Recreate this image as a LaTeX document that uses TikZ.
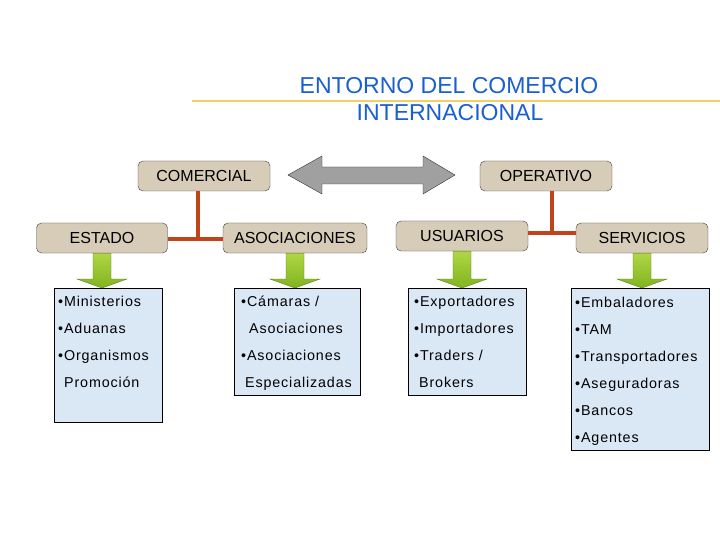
\documentclass[tikz,border=0pt]{standalone}
\usepackage{fontspec}
\setmainfont{Liberation Sans}
\newfontfamily\listfont[LetterSpace=6]{Liberation Sans}
\usetikzlibrary{positioning, calc}

\definecolor{titleblue}{RGB}{25,95,210}
\definecolor{rulegold}{RGB}{240,210,100}
\definecolor{beige}{RGB}{214,204,184}
\definecolor{linkred}{RGB}{192,68,26}
\definecolor{listblue}{RGB}{218,231,245}
\definecolor{arrowgray}{RGB}{160,160,160}
\definecolor{greenlight}{RGB}{176,214,70}
\definecolor{greendark}{RGB}{128,180,30}

\begin{document}
\begin{tikzpicture}[x=1pt, y=-1pt,
    title/.style={text=titleblue, font=\fontsize{23}{25}\selectfont},
    box/.style={draw=black!75, rounded corners=5pt, fill=beige, minimum width=132pt,
        minimum height=30pt, inner sep=0pt, font=\fontsize{16}{18}\selectfont},
    listbox/.style={draw=black, fill=listblue, anchor=north west, inner sep=0pt},
    item/.style={anchor=base west, inner sep=0pt, font=\listfont\fontsize{14.3}{16}\selectfont},
    link/.style={draw=linkred, line width=3.5pt},
    greenarrow/.style={draw=greendark!70!black, top color=greenlight, bottom color=greendark}]

    \useasboundingbox[fill=white] (0,0) rectangle (720,540);

    % title
    \draw[rulegold, line width=2.5pt] (192,101) -- (720,101);
    \node[title] (title1) at (449,86) {ENTORNO DEL COMERCIO};
    \node[title] (title2) at (450,113) {INTERNACIONAL};

    % top level
    \node[box] (comercial) at (204,176) {COMERCIAL};
    \node[box] (operativo) at (546,176) {OPERATIVO};
    \draw[draw=black!80, fill=arrowgray] (288,175) -- (322,156) -- (322,167) -- (423,167)
        -- (423,156) -- (455,175) -- (423,194) -- (423,184) -- (322,184) -- (322,194) -- cycle;

    % second level
    \node[box, minimum width=131pt] (estado) at (102,238) {ESTADO};
    \node[box, minimum width=144pt] (asociaciones) at (295,238) {ASOCIACIONES};
    \node[box] (usuarios) at (462,236) {USUARIOS};
    \node[box] (servicios) at (642,238) {SERVICIOS};

    \coordinate (comjoin) at (198,239);
    \coordinate (opjoin) at (552,233);
    \draw[link] (estado.east |- comjoin) -- (asociaciones.west |- comjoin);
    \draw[link] (comercial.south -| comjoin) -- (comjoin);
    \draw[link] (usuarios.east |- opjoin) -- (servicios.west |- opjoin);
    \draw[link] (operativo.south -| opjoin) -- (opjoin);

    % lists
    \node[listbox, minimum width=108pt, minimum height=134pt] (estadolist) at (54,288) {};
    \node[listbox, minimum width=126pt, minimum height=107pt] (asoclist) at (234,288) {};
    \node[listbox, minimum width=118pt, minimum height=107pt] (usuarioslist) at (408,288) {};
    \node[listbox, minimum width=138pt, minimum height=162pt] (servicioslist) at (571,288) {};

    \coordinate (headbase) at (0,279);
    \foreach \b/\l in {estado/estadolist, asociaciones/asoclist, usuarios/usuarioslist, servicios/servicioslist}
        \draw[greenarrow] ([xshift=-9pt]\b.south) -- ([xshift=-9pt]\b.south |- headbase)
            -- ([xshift=-25pt]\b.south |- headbase) -- (\b.south |- \l.north)
            -- ([xshift=25pt]\b.south |- headbase) -- ([xshift=9pt]\b.south |- headbase)
            -- ([xshift=9pt]\b.south) -- cycle;

    \node[item] (ministerios) at (58,306) {•Ministerios};
    \node[item] (aduanas) at (58,333) {•Aduanas};
    \node[item] (organismos) at (58,360) {•Organismos};
    \node[item] (promocion) at (64,387) {Promoción};

    \node[item] (camaras) at (241,306) {•Cámaras /};
    \node[item] (asociaciones1) at (249,333) {Asociaciones};
    \node[item] (asociaciones2) at (241,360) {•Asociaciones};
    \node[item] (especializadas) at (245,387) {Especializadas};

    \node[item] (exportadores) at (414,306) {•Exportadores};
    \node[item] (importadores) at (414,333) {•Importadores};
    \node[item] (traders) at (414,360) {•Traders /};
    \node[item] (brokers) at (419,387) {Brokers};

    \node[item] (embaladores) at (575,307) {•Embaladores};
    \node[item] (tam) at (575,334) {•TAM};
    \node[item] (transportadores) at (575,361) {•Transportadores};
    \node[item] (aseguradoras) at (575,388) {•Aseguradoras};
    \node[item] (bancos) at (575,415) {•Bancos};
    \node[item] (agentes) at (575,442) {•Agentes};
\end{tikzpicture}
\end{document}
